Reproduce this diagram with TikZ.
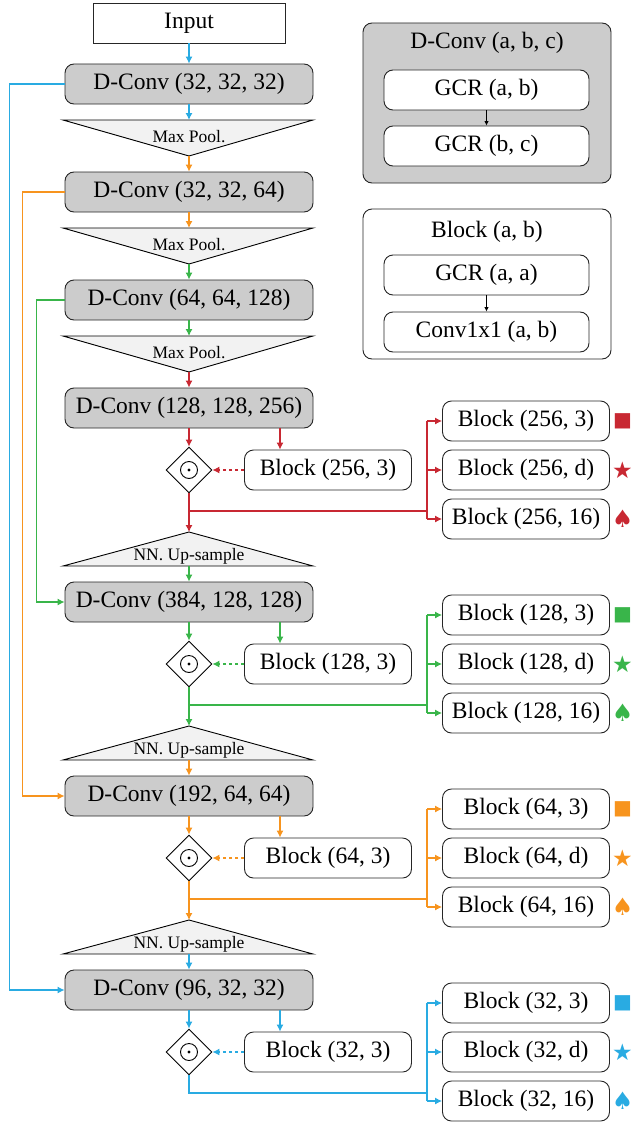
\documentclass[tikz,border=0pt]{standalone}
\usepackage{fontspec}
\setmainfont{Liberation Serif}
\newfontfamily\symfont{DejaVu Sans}
\usepackage{tikz}
\usetikzlibrary{positioning,calc,shapes.geometric,arrows.meta}
\definecolor{SkipBlue}{RGB}{41,171,226}
\definecolor{SkipOrange}{RGB}{247,148,30}
\definecolor{SkipGreen}{RGB}{57,181,74}
\definecolor{SkipRed}{RGB}{200,40,50}
\definecolor{ConvGray}{RGB}{204,204,204}
\definecolor{PoolGray}{RGB}{242,242,242}
\tikzset{
  boxbase/.style={draw=black!85,line width=0.9pt,inner sep=0pt,minimum height=40pt,font=\fontsize{23.5}{28}\selectfont},
  dconv/.style={boxbase,fill=ConvGray,rounded corners=9pt,minimum width=248pt},
  blockbox/.style={boxbase,fill=white,rounded corners=9pt,minimum width=167pt},
  inbox/.style={boxbase,fill=white,minimum width=192pt},
  mult/.style={draw=black,line width=0.9pt,diamond,minimum width=46pt,minimum height=46pt,inner sep=0pt},
  poolshape/.style={draw=black,line width=0.9pt,fill=PoolGray},
  pooltext/.style={font=\fontsize{17.5}{20}\selectfont,inner sep=0pt,anchor=base},
  symtag/.style={inner sep=0pt},
  flow/.style={line width=1.1pt,-{Latex[length=7pt,width=7pt]}},
  line/.style={line width=1.1pt},
  smallflow/.style={line width=0.8pt,-{Latex[length=4.5pt,width=4.5pt]}}
}

\begin{document}
\begin{tikzpicture}[x=1pt,y=-1pt]
  \useasboundingbox (0,0) rectangle (633,1124);

  % encoder
  \node[inbox] (input) at (189,23) {Input};
  \node[dconv] (dc1) at (189,84) {D-Conv (32, 32, 32)};
  \node[dconv] (dc2) at (189,192) {D-Conv (32, 32, 64)};
  \node[dconv] (dc3) at (189,300) {D-Conv (64, 64, 128)};
  \node[dconv] (dc4) at (189,408) {D-Conv (128, 128, 256)};
  \node[dconv] (dc5) at (189,602) {D-Conv (384, 128, 128)};
  \node[dconv] (dc6) at (189,796) {D-Conv (192, 64, 64)};
  \node[dconv] (dc7) at (189,990) {D-Conv (96, 32, 32)};

  \foreach \i/\c in {1/84,2/192,3/300} {
    \draw[poolshape] (63,\c+36) -- (313,\c+36) -- (189,\c+72) -- cycle;
    \coordinate (pin\i) at (189,\c+36);
    \coordinate (pout\i) at (189,\c+72);
    \node[pooltext] (pool\i) at (189,\c+58) {Max Pool.};
  }
  \foreach \i/\c in {4/408,5/602,6/796} {
    \draw[poolshape] (63,\c+158) -- (313,\c+158) -- (189,\c+124) -- cycle;
    \coordinate (uin\i) at (189,\c+124);
    \coordinate (uout\i) at (189,\c+158);
    \node[pooltext] (up\i) at (189,\c+152) {NN. Up-sample};
  }

  \draw[flow,SkipBlue] (input) -- (dc1);
  \draw[flow,SkipBlue] (dc1) -- (pin1);
  \draw[flow,SkipOrange] (pout1) -- (dc2);
  \draw[flow,SkipOrange] (dc2) -- (pin2);
  \draw[flow,SkipGreen] (pout2) -- (dc3);
  \draw[flow,SkipGreen] (dc3) -- (pin3);
  \draw[flow,SkipRed] (pout3) -- (dc4);
  \draw[flow,SkipGreen] (uout4) -- (dc5);
  \draw[flow,SkipOrange] (uout5) -- (dc6);
  \draw[flow,SkipBlue] (uout6) -- (dc7);

  % skip connections
  \draw[flow,SkipBlue] (dc1.west) -- ++(-55,0) |- (dc7.west);
  \draw[flow,SkipOrange] (dc2.west) -- ++(-42,0) |- (dc6.west);
  \draw[flow,SkipGreen] (dc3.west) -- ++(-28,0) |- (dc5.west);

  % decoder heads
  \foreach \k/\c/\col/\n in {4/408/SkipRed/256,5/602/SkipGreen/128,6/796/SkipOrange/64,7/990/SkipBlue/32} {
    \node[mult] (mul\k) at (189,\c+62) {};
    \draw[line width=0.9pt] (mul\k) circle[radius=8.5pt];
    \fill (mul\k) circle[radius=1.7pt];
    \node[blockbox] (blk\k) at (328,\c+62) {Block (\n, 3)};
    \draw[flow,\col] (dc\k.south) -- (mul\k.north);
    \draw[flow,\col] ([xshift=91pt]dc\k.south) -- ([xshift=-48pt]blk\k.north);
    \draw[flow,\col,dashed] (blk\k.west) -- (mul\k.east);
    \coordinate (fork\k) at (427,\c+103);
    \draw[line,\col] (mul\k.south) |- (fork\k);
    \foreach \j/\dy/\b/\s/\fs in {a/13/3/■/20,b/62/d/★/23,c/111/16/♠/24} {
      \node[blockbox] (out\k\j) at (526,\c+\dy) {Block (\n, \b)};
      \node[symtag,text=\col,font=\symfont\fontsize{\fs}{\fs}\selectfont] (tag\k\j) at (622.5,\c+\dy) {\s};
      \draw[flow,\col] (fork\k |- out\k\j.west) -- (out\k\j.west);
    }
    \draw[line,\col] (fork\k |- out\k a.west) -- (fork\k |- out\k c.west);
  }
  \draw[flow,SkipRed] (mul4.south) -- (uin4);
  \draw[flow,SkipGreen] (mul5.south) -- (uin5);
  \draw[flow,SkipOrange] (mul6.south) -- (uin6);

  % legend
  \node[dconv,minimum height=160pt] (legconv) at (487,103) {};
  \node[font=\fontsize{23.5}{28}\selectfont] (legconvname) at (487,43) {D-Conv (a, b, c)};
  \node[blockbox,minimum width=205pt] (leggcr1) at (486.5,90) {GCR (a, b)};
  \node[blockbox,minimum width=205pt] (leggcr2) at (486.5,146) {GCR (b, c)};
  \draw[smallflow] (leggcr1) -- (leggcr2);

  \node[blockbox,minimum width=248pt,minimum height=150pt] (legblock) at (487,284) {};
  \node[font=\fontsize{23.5}{28}\selectfont] (legblockname) at (487,232) {Block (a, b)};
  \node[blockbox,minimum width=205pt] (leggcr3) at (486.5,275) {GCR (a, a)};
  \node[blockbox,minimum width=205pt] (legconv1) at (486.5,332) {Conv1x1 (a, b)};
  \draw[smallflow] (leggcr3) -- (legconv1);
\end{tikzpicture}
\end{document}
